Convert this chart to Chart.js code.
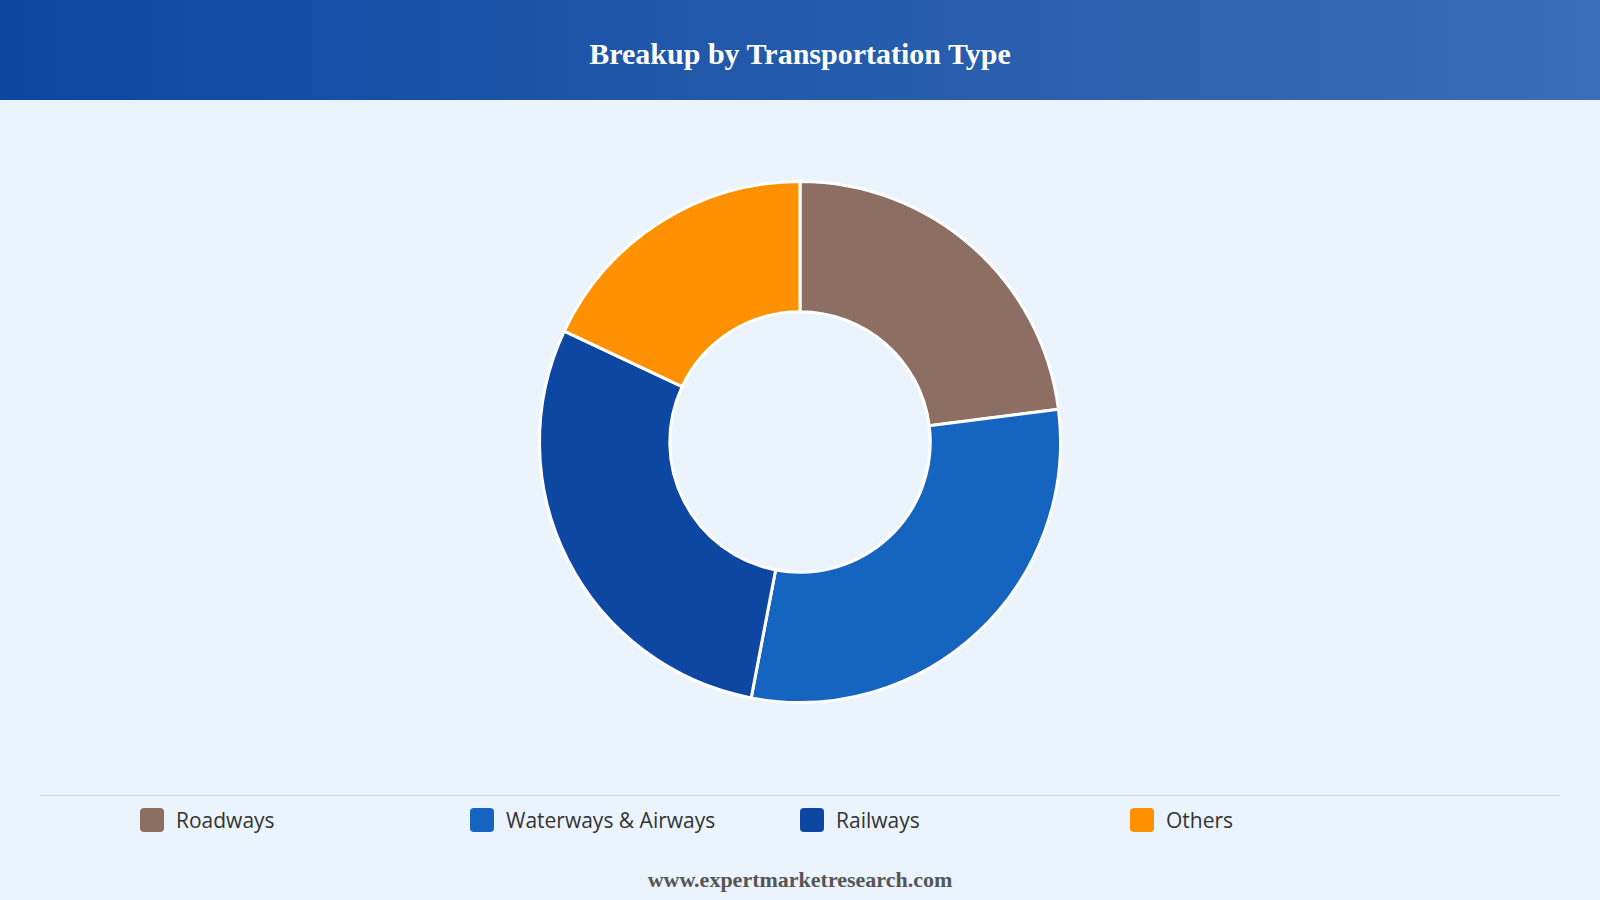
<!DOCTYPE html>
<html><head><meta charset="utf-8">
<script src="https://cdn.jsdelivr.net/npm/chart.js@4"></script>
<style>
html,body{margin:0;padding:0;width:1600px;height:900px;background:#EBF3FC;overflow:hidden;font-family:"Open Sans","Noto Sans",sans-serif;}
#hdr{position:absolute;left:0;top:0;width:1600px;height:100px;background:linear-gradient(90deg,#0D47A1,#3A6DB5);color:#fff;font:bold 30px "Liberation Serif","DejaVu Serif",serif;text-align:center;line-height:108px;}
#wrap{position:absolute;left:400px;top:180px;width:800px;height:524px;}
#line{position:absolute;left:40px;top:795px;width:1520px;height:1px;background:#d5d9de;}
#legend{position:absolute;top:806px;left:140px;width:1400px;height:30px;}
.item{position:absolute;top:0;display:flex;align-items:center;font-size:21px;color:#333;}
.sw{width:24px;height:24px;border-radius:4px;margin-right:12px;}
#ftr{position:absolute;top:867px;width:1600px;text-align:center;font:bold 22px "Liberation Serif","DejaVu Serif",serif;color:#555;}
</style></head><body>
<div id="hdr">Breakup by Transportation Type</div>
<div id="wrap"><canvas id="c"></canvas></div>
<div id="line"></div>
<div id="legend"></div>
<div id="ftr">www.expertmarketresearch.com</div>
<script>
const labels=["Roadways","Waterways & Airways","Railways","Others"];
const values=[23,30,29,18];
const colors=["#8D6E63","#1565C0","#0D47A1","#FF9100"];
const lg=document.getElementById('legend');
labels.forEach((l,i)=>{const d=document.createElement('div');d.className='item';d.style.left=(i*330)+'px';d.innerHTML='<div class="sw" style="background:'+colors[i]+'"></div>'+l;lg.appendChild(d);});
new Chart(document.getElementById('c'),{type:'doughnut',
data:{labels:labels,datasets:[{data:values,backgroundColor:colors,borderColor:'#fff',borderWidth:3}]},
options:{responsive:true,maintainAspectRatio:false,animation:false,cutout:'50%',
plugins:{legend:{display:false},tooltip:{enabled:false}}}});
</script>
</body></html>
